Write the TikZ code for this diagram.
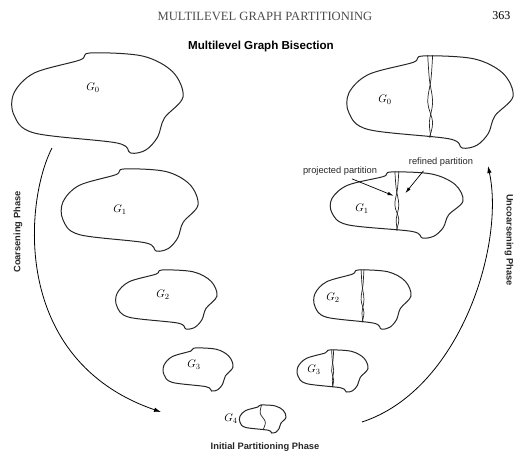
\documentclass[tikz,border=0pt]{standalone}
\usepackage{fontspec}
\setmainfont{Liberation Serif}
\setsansfont{Liberation Sans}
\usetikzlibrary{arrows.meta}
\def\blobpts{(0.39,0.07) (0.45,0.0) (0.76,0.03) (0.94,0.19) (1.0,0.44) (0.89,0.65) (0.85,0.84) (0.78,0.97) (0.69,1.0) (0.61,0.9) (0.12,0.8) (0.0,0.62) (0.0,0.4) (0.12,0.2)}
\newcommand\myblob[5]{\begin{scope}[shift={(#1,#2)},xscale=#3,yscale=#4]
  \draw[blobline] plot[smooth cycle,tension=0.55] coordinates {\blobpts};
  #5
\end{scope}}
\newcommand\mybraid{%
  \draw[cutline] plot[smooth,tension=0.6] coordinates {(0.48,-0.01) (0.49,0.25) (0.51,0.5) (0.49,0.72) (0.5,0.885)};
  \draw[cutline] plot[smooth,tension=0.6] coordinates {(0.51,-0.01) (0.5,0.25) (0.48,0.5) (0.51,0.72) (0.49,0.885)};}
\begin{document}
\begin{tikzpicture}[x=1pt,y=-1pt,
  blobline/.style={line width=1pt,black!85},
  cutline/.style={line width=0.7pt,black!85},
  glabel/.style={font=\fontsize{11}{13}\selectfont},
  phase/.style={font=\sffamily\bfseries\fontsize{9.3}{11}\selectfont,text=black!85},
  small/.style={font=\sffamily\fontsize{9.3}{11}\selectfont,text=black!85},
  flow/.style={line width=0.8pt,-{Latex[length=7pt,width=4.5pt]}},
  pointer/.style={line width=0.7pt,-{Latex[length=6pt,width=3.5pt]}}]
\useasboundingbox (0,0) rectangle (515,453);
% header
\node[font=\fontsize{12.6}{14}\selectfont,text=black!70] (hdr) at (265,16) {MULTILEVEL GRAPH PARTITIONING};
\node[font=\fontsize{12}{14}\selectfont,anchor=east] (pg) at (514,16) {363};
\node[font=\sffamily\bfseries\fontsize{11.6}{13}\selectfont] (title) at (261,46) {Multilevel Graph Bisection};
% left column (coarsening)
\myblob{14}{53}{169}{100}{}
\myblob{63}{169}{135}{82}{}
\myblob{117}{270}{100}{59}{}
\myblob{164}{348}{69}{43}{}
\node[glabel] (lg0) at (93,88) {$G_0$};
\node[glabel] (lg1) at (120,210) {$G_1$};
\node[glabel] (lg2) at (163,295) {$G_2$};
\node[glabel] (lg3) at (194,365) {$G_3$};
% G4
\myblob{240}{405}{46}{28}{\draw[cutline] plot[smooth,tension=0.6] coordinates {(0.47,0.0) (0.44,0.3) (0.55,0.6) (0.5,0.89)};}
\node[glabel] (lg4) at (231,419) {$G_4$};
% right column (uncoarsening)
\myblob{349}{56}{164}{92}{\mybraid}
\myblob{332}{172}{131}{66}{\mybraid \coordinate (pp) at (0.47,0.36); \coordinate (rp) at (0.56,0.32);}
\myblob{315}{270}{96}{59}{\mybraid}
\myblob{298}{350}{70}{42}{\mybraid}
\node[glabel] (rg0) at (385,100) {$G_0$};
\node[glabel] (rg1) at (362,209) {$G_1$};
\node[glabel] (rg2) at (333,298) {$G_2$};
\node[glabel] (rg3) at (314,370) {$G_3$};
% partition labels
\node[small] (projl) at (340,171) {projected partition};
\node[small] (refl) at (441,162) {refined partition};
\draw[pointer] (projl.south) ++(12,0) coordinate (ps) (ps) -- (pp);
\draw[pointer] (refl.south west) ++(18,1) coordinate (rs) (rs) -- (rp);
% phases
\coordinate (cs) at (52,148);
\coordinate (ce) at (161,412);
\draw[flow] (cs) .. controls (25,200) and (10,360) .. (ce);
\coordinate (us) at (362,422);
\coordinate (ue) at (488,166);
\draw[flow] (us) .. controls (460,390) and (505,245) .. (ue);
\node[phase,rotate=90] (coarse) at (18,232) {Coarsening Phase};
\node[phase,rotate=-90] (uncoarse) at (509,240) {Uncoarsening Phase};
\node[phase] (init) at (265,447) {Initial Partitioning Phase};
\end{tikzpicture}
\end{document}
